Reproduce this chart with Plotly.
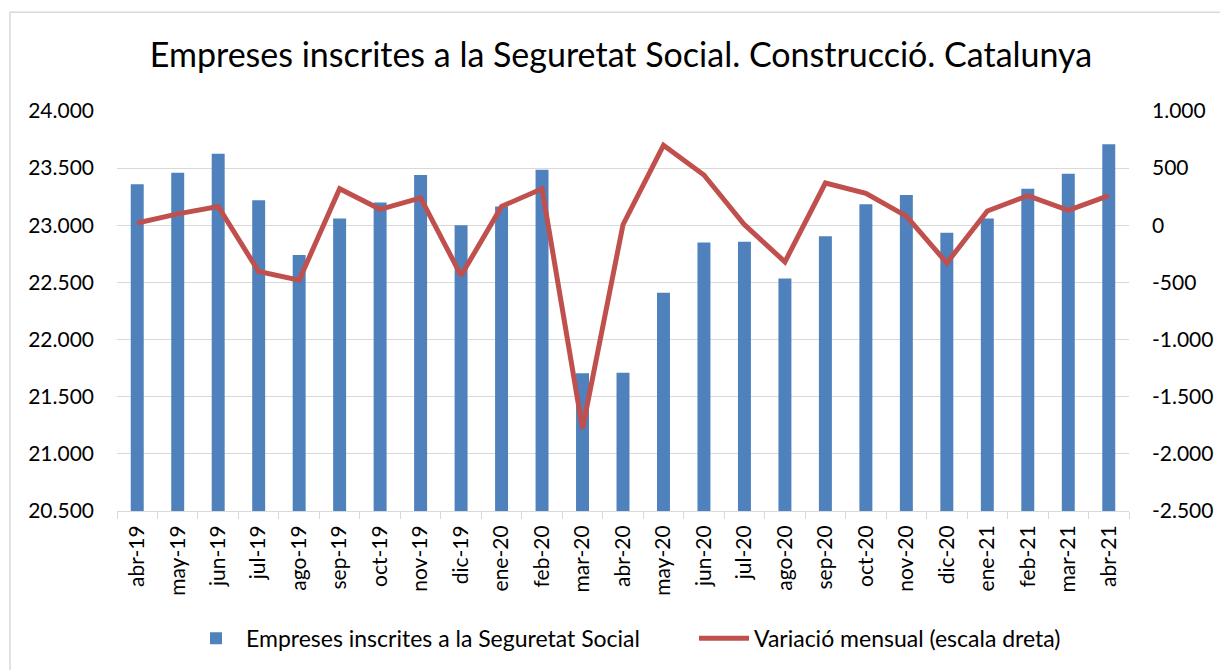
import plotly.graph_objects as go

months = ["abr-19","may-19","jun-19","jul-19","ago-19","sep-19","oct-19","nov-19","dic-19",
          "ene-20","feb-20","mar-20","abr-20","may-20","jun-20","jul-20","ago-20","sep-20",
          "oct-20","nov-20","dic-20","ene-21","feb-21","mar-21","abr-21"]
empreses = [23360, 23460, 23625, 23220, 22740, 23060, 23200, 23440, 23000,
            23165, 23485, 21705, 21710, 22410, 22850, 22855, 22535, 22905,
            23185, 23265, 22935, 23060, 23320, 23450, 23710]
variacio = [20, 100, 165, -405, -480, 320, 140, 240, -440,
            165, 320, -1780, 5, 700, 440, 5, -320, 370,
            280, 80, -330, 125, 260, 130, 260]

left_ticks = [20500, 21000, 21500, 22000, 22500, 23000, 23500, 24000]
left_text = ["20.500", "21.000", "21.500", "22.000", "22.500", "23.000", "23.500", "24.000"]
right_ticks = [-2500, -2000, -1500, -1000, -500, 0, 500, 1000]
right_text = ["-2.500", "-2.000", "-1.500", "-1.000", "-500", "0", "500", "1.000"]

FONT = "Lato, 'Open Sans', sans-serif"

fig = go.Figure()
fig.add_trace(go.Bar(x=months, y=empreses, name="Empreses inscrites a la Seguretat Social",
                     marker=dict(color="#4F81BD", line=dict(width=0)), yaxis="y",
                     legend="legend"))
fig.add_trace(go.Scatter(x=months, y=variacio, name="Variació mensual (escala dreta)",
                         mode="lines", line=dict(color="#C0504D", width=5), yaxis="y2",
                         legend="legend2"))

legend_common = dict(orientation="h", xanchor="left", y=-0.315, yanchor="middle",
                     font=dict(size=23), itemwidth=50, bgcolor="rgba(0,0,0,0)")

fig.update_layout(
    width=1220, height=670,
    margin=dict(l=117, r=91, t=111, b=158),
    paper_bgcolor="white", plot_bgcolor="white",
    bargap=0.68,
    font=dict(family=FONT, size=21, color="#000000"),
    title=dict(text="Empreses inscrites a la Seguretat Social. Construcció. Catalunya",
               x=0.509, xanchor="center", y=0.918, yanchor="middle",
               font=dict(family=FONT, size=34, color="#000000")),
    xaxis=dict(type="category", showgrid=False, showline=True, linecolor="#D9D9D9", linewidth=1,
               ticks="outside", tickson="boundaries", ticklen=7, tickcolor="#D9D9D9",
               tickangle=-90, tickfont=dict(size=21), ticklabelstandoff=5, automargin=False),
    yaxis=dict(range=[20500, 24000], tickvals=left_ticks, ticktext=left_text,
               showgrid=True, gridcolor="#D9D9D9", gridwidth=1, zeroline=False,
               showline=False, ticks="", tickfont=dict(size=21), ticklabelstandoff=22,
               automargin=False),
    yaxis2=dict(range=[-2500, 1000], tickvals=right_ticks, ticktext=right_text,
                overlaying="y", side="right", showgrid=False, zeroline=False,
                showline=False, ticks="", tickfont=dict(size=21), ticklabelstandoff=22,
                automargin=False),
    legend=dict(x=(186-117)/1012, **legend_common),
    legend2=dict(x=(694-117)/1012, **legend_common),
    showlegend=True,
)
fig.add_shape(type="rect", xref="paper", yref="paper",
              x0=(10-117)/1012, x1=(1240-117)/1012, y0=(512-700)/401, y1=(512-12)/401,
              line=dict(color="#D9D9D9", width=1.5), fillcolor="rgba(0,0,0,0)", layer="below")

fig.write_html("out.html", config={"displayModeBar": False},
               post_script="document.body.style.margin='0px';")
